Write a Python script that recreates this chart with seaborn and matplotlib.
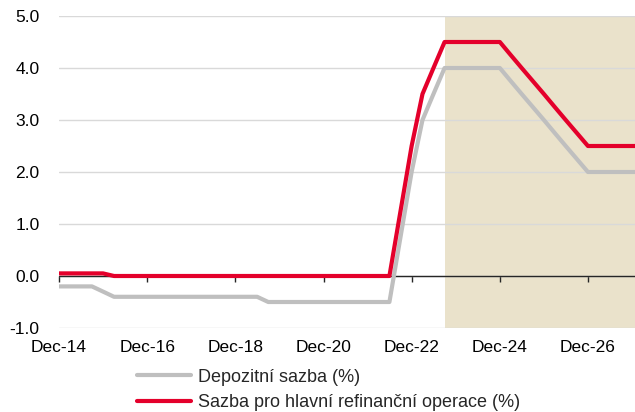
import numpy as np
import pandas as pd
import matplotlib
matplotlib.use('Agg')
import matplotlib.pyplot as plt
import matplotlib.dates as mdates
from matplotlib.ticker import FormatStrFormatter
import seaborn as sns

# quarter-end dates Dec-14 .. Mar-28
dates = pd.date_range('2014-12-31', '2028-03-31', freq='QE')

# Depozitni sazba (%)
deposit = [-0.20, -0.20, -0.20, -0.20, -0.30,               # 2014Q4-2015Q4
           -0.40, -0.40, -0.40, -0.40,                      # 2016
           -0.40, -0.40, -0.40, -0.40,                      # 2017
           -0.40, -0.40, -0.40, -0.40,                      # 2018
           -0.40, -0.40, -0.50, -0.50,                      # 2019
           -0.50, -0.50, -0.50, -0.50,                      # 2020
           -0.50, -0.50, -0.50, -0.50,                      # 2021
           -0.50, -0.50, 0.75, 2.00,                        # 2022
           3.00, 3.50, 4.00, 4.00,                          # 2023
           4.00, 4.00, 4.00, 4.00,                          # 2024
           3.75, 3.50, 3.25, 3.00,                          # 2025
           2.75, 2.50, 2.25, 2.00,                          # 2026
           2.00, 2.00, 2.00, 2.00,                          # 2027
           2.00]                                            # 2028Q1

# Sazba pro hlavni refinancni operace (%)
mro = [0.05, 0.05, 0.05, 0.05, 0.05,
       0.00, 0.00, 0.00, 0.00,
       0.00, 0.00, 0.00, 0.00,
       0.00, 0.00, 0.00, 0.00,
       0.00, 0.00, 0.00, 0.00,
       0.00, 0.00, 0.00, 0.00,
       0.00, 0.00, 0.00, 0.00,
       0.00, 0.00, 1.25, 2.50,
       3.50, 4.00, 4.50, 4.50,
       4.50, 4.50, 4.50, 4.50,
       4.25, 4.00, 3.75, 3.50,
       3.25, 3.00, 2.75, 2.50,
       2.50, 2.50, 2.50, 2.50,
       2.50]

label_dep = 'Depozitní sazba (%)'
label_mro = 'Sazba pro hlavní refinanční operace (%)'
forecast_start = pd.Timestamp('2023-09-30')

df = pd.DataFrame({'date': dates, label_dep: deposit, label_mro: mro})
long_df = df.melt(id_vars='date', var_name='series', value_name='rate')

sns.set_style('white')
plt.rcParams['font.family'] = ['Liberation Sans', 'DejaVu Sans']
plt.rcParams['axes.unicode_minus'] = False

fig = plt.figure(figsize=(6.35, 4.12), dpi=100)
ax = fig.add_axes([59 / 635, (412 - 328) / 412, 1 - 59 / 635, (328 - 16) / 412])

ax.axvspan(forecast_start, pd.Timestamp('2030-01-01'), color='#EAE2CB', lw=0, zorder=0)
ax.axhline(0, color='#262626', lw=1, zorder=2)

sns.lineplot(data=long_df, x='date', y='rate', hue='series',
             palette={label_dep: '#BFBFBF', label_mro: '#E4002B'},
             linewidth=3, ax=ax, zorder=3)

ax.set_xlim(pd.Timestamp('2014-12-31'), pd.Timestamp('2028-01-25'))
ax.set_ylim(-1.0, 5.0)
ax.set_yticks(np.arange(-1, 5.1, 1))
ax.yaxis.set_major_formatter(FormatStrFormatter('%.1f'))
ax.grid(axis='y', color='#D9D9D9', lw=1)
ax.grid(axis='x', visible=False)
for s in ax.spines.values():
    s.set_visible(False)

xt = pd.to_datetime(['2014-12-31', '2016-12-31', '2018-12-31', '2020-12-31',
                     '2022-12-31', '2024-12-31', '2026-12-31'])
ax.set_xticks(xt)
ax.xaxis.set_major_formatter(mdates.DateFormatter('Dec-%y'))
ax.tick_params(axis='both', length=0, labelsize=12.5, colors='black')
ax.tick_params(axis='y', pad=14)
ax.tick_params(axis='x', pad=9)
ax.set_xlabel('')
ax.set_ylabel('')

# small tick marks hanging below the zero line
zero_ax = ax.secondary_xaxis(1 / 6)
zero_ax.set_xticks(xt)
zero_ax.set_xticklabels([])
zero_ax.tick_params(axis='x', direction='out', length=4, width=1, colors='#262626')
zero_ax.spines['bottom'].set_visible(False)

handles, labels = ax.get_legend_handles_labels()
ax.legend(handles, labels, loc='upper left', bbox_to_anchor=(137 / 635, 0.105),
          bbox_transform=fig.transFigure, frameon=False, fontsize=13,
          handlelength=3.0, handletextpad=0.4, borderpad=0, borderaxespad=0,
          labelspacing=0.45)

fig.savefig('out.png', dpi=100)
